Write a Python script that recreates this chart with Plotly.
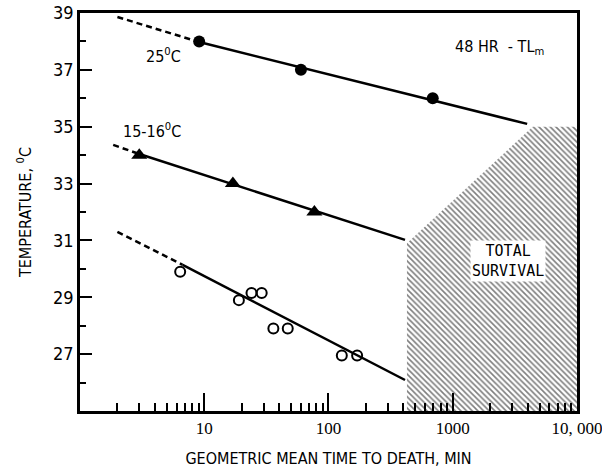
import plotly.graph_objects as go

# ---- data ----
warm_x = [9.1, 60, 690]          # 25 C, filled circles
warm_y = [38.0, 37.0, 36.0]
mid_x = [3.0, 17, 77]            # 15-16 C, triangles
mid_y = [34.0, 33.0, 32.0]
cold_x = [6.4, 19, 24, 29, 36, 47, 128, 170]   # open circles
cold_y = [29.9, 28.9, 29.15, 29.15, 27.9, 27.9, 26.95, 26.95]

warm_dash_x = [2.0, 9.1]; warm_dash_y = [38.86, 37.98]
warm_fit_x = [9.1, 3970]; warm_fit_y = [37.98, 35.1]
mid_dash_x = [1.85, 3.0]; mid_dash_y = [34.36, 34.04]
mid_fit_x = [3.0, 413]; mid_fit_y = [34.04, 31.02]
cold_dash_x = [2.0, 6.7]; cold_dash_y = [31.30, 30.14]
cold_fit_x = [6.7, 413]; cold_fit_y = [30.14, 26.09]

surv_x = [428, 428, 4400, 10000, 10000, 428]
surv_y = [25, 30.9, 35.0, 35.0, 25, 25]

x_tickvals = [10, 100, 1000, 10000]
x_ticktext = ["10", "100", "1000", "10, 000"]
x_minor = [m * 10 ** d for d in range(4) for m in range(2, 10)]
y_tickvals = [27, 29, 31, 33, 35, 37, 39]
y_minor = [26, 28, 30, 32, 34, 36, 38]

FONT = "Liberation Sans Narrow, DejaVu Sans Condensed, Arial Narrow, sans-serif"
fig = go.Figure()

fig.add_trace(go.Scatter(x=surv_x, y=surv_y, mode="lines", fill="toself",
                         line=dict(width=0, color="rgba(0,0,0,0)"),
                         fillcolor="rgba(255,255,255,0)",
                         fillpattern=dict(shape="\\", size=4, solidity=0.4,
                                          fgcolor="black", bgcolor="white"),
                         hoverinfo="skip"))

for dx, dy, fx, fy in [(warm_dash_x, warm_dash_y, warm_fit_x, warm_fit_y),
                       (mid_dash_x, mid_dash_y, mid_fit_x, mid_fit_y),
                       (cold_dash_x, cold_dash_y, cold_fit_x, cold_fit_y)]:
    fig.add_trace(go.Scatter(x=dx, y=dy, mode="lines",
                             line=dict(color="black", width=2.5, dash="6px,4px")))
    fig.add_trace(go.Scatter(x=fx, y=fy, mode="lines",
                             line=dict(color="black", width=2.5)))

fig.add_trace(go.Scatter(x=warm_x, y=warm_y, mode="markers",
                         marker=dict(symbol="circle", size=12, color="black")))
fig.add_trace(go.Scatter(x=mid_x, y=mid_y, mode="markers",
                         marker=dict(symbol="triangle-up", size=14, color="black")))
fig.add_trace(go.Scatter(x=cold_x, y=cold_y, mode="markers",
                         marker=dict(symbol="circle-open", size=10, color="black",
                                     line=dict(width=2, color="black"))))

fig.update_layout(
    width=602, height=472,
    margin=dict(l=80, r=25, t=13, b=61),
    paper_bgcolor="white", plot_bgcolor="white",
    showlegend=False,
    font=dict(family=FONT, color="black", size=16),
    xaxis=dict(type="log", range=[0, 4.0001], tickvals=x_tickvals, ticktext=x_ticktext,
               automargin=False,
               ticks="inside", ticklen=18, tickwidth=1.5, tickcolor="black",
               ticklabeloverflow="allow",
               minor=dict(tickvals=x_minor, ticks="inside", ticklen=8,
                          tickwidth=1.5, tickcolor="black", showgrid=False),
               showline=True, linewidth=2.5, linecolor="black", mirror=True,
               showgrid=False, zeroline=False,
               tickfont=dict(family="Liberation Serif, serif", size=17),
               title=dict(text="GEOMETRIC MEAN TIME TO DEATH, MIN",
                          font=dict(size=16), standoff=16)),
    yaxis=dict(range=[25, 39], tickvals=y_tickvals, automargin=False,
               ticks="inside", ticklen=12, tickwidth=1.5, tickcolor="black",
               minor=dict(tickvals=y_minor, ticks="inside", ticklen=6,
                          tickwidth=1.5, tickcolor="black", showgrid=False),
               showline=True, linewidth=2.5, linecolor="black", mirror=True,
               showgrid=False, zeroline=False,
               tickfont=dict(size=18),
               title=dict(text="TEMPERATURE, <sup>0</sup>C", font=dict(size=16),
                          standoff=18)),
)

ann = [
    dict(x=3.445, y=30.28, text="TOTAL<br>SURVIVAL", bgcolor="white",
         font=dict(family="DejaVu Sans Mono, monospace", size=15)),
    dict(x=3.38, y=37.8, text="48 HR  - TL<sub>m</sub>", font=dict(size=16)),
    dict(x=0.668, y=37.52, text="25<sup>0</sup>C", font=dict(size=16)),
    dict(x=0.58, y=34.88, text="15-16<sup>0</sup>C", font=dict(size=16)),
]
for a in ann:
    fig.add_annotation(xref="x", yref="y", showarrow=False, **a)

fig.write_html("out.html")
